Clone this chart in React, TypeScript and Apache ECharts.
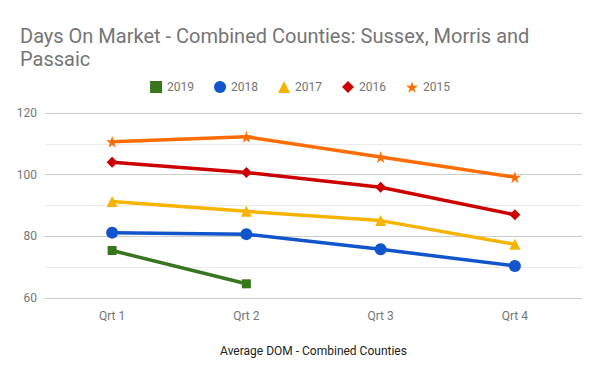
import React, { useEffect, useRef } from "react";
import * as echarts from "echarts";

const categories = ["Qrt 1", "Qrt 2", "Qrt 3", "Qrt 4"];
const s2019 = [75.4, 64.6, null, null];
const s2018 = [81.2, 80.7, 75.8, 70.4];
const s2017 = [91.3, 88.1, 85.1, 77.4];
const s2016 = [104.0, 100.7, 95.9, 87.0];
const s2015 = [110.7, 112.3, 105.7, 99.2];
const yTicks = { min: 60, max: 120, interval: 20 };

export default function App() {
  const ref = useRef<HTMLDivElement>(null);
  useEffect(() => {
    if (!ref.current) return;
    const chart = echarts.init(ref.current, null, { renderer: "svg" });
    const mk = (name: string, data: (number | null)[], color: string, symbol: string, size: number) => ({
      name,
      type: "line",
      data,
      symbol,
      symbolSize: size,
      showAllSymbol: true,
      lineStyle: { color, width: 3.5 },
      itemStyle: { color },
      connectNulls: false,
    });
    chart.setOption({
      animation: false,
      backgroundColor: "#ffffff",
      textStyle: { fontFamily: "Roboto" },
      title: {
        text: "Days On Market - Combined Counties: Sussex, Morris and\nPassaic",
        left: 15,
        top: 19,
        textStyle: { fontFamily: "Roboto", fontSize: 20, fontWeight: "normal", color: "#757575", lineHeight: 23 },
      },
      legend: {
        top: 76,
        left: "center",
        itemGap: 20,
        itemWidth: 12,
        itemHeight: 12,
        textStyle: { fontFamily: "Roboto", fontSize: 12, color: "#757575" },
        data: [
          { name: "2019", icon: "rect" },
          { name: "2018", icon: "circle" },
          { name: "2017", icon: "triangle" },
          { name: "2016", icon: "diamond" },
          { name: "2015", icon: "path://M50,0 L61,35 L98,35 L68,57 L79,91 L50,70 L21,91 L32,57 L2,35 L39,35 Z" },
        ],
      },
      grid: { left: 45, right: 18, top: 113, bottom: 73 },
      xAxis: {
        type: "category",
        data: categories,
        boundaryGap: true,
        name: "Average DOM - Combined Counties",
        nameLocation: "middle",
        nameGap: 47,
        nameTextStyle: { fontFamily: "Roboto", fontSize: 12, color: "#222222" },
        axisLine: { show: false },
        axisTick: { show: false },
        axisLabel: { fontFamily: "Roboto", fontSize: 12, color: "#757575", margin: 12 },
      },
      yAxis: {
        type: "value",
        min: yTicks.min,
        max: yTicks.max,
        interval: yTicks.interval,
        axisLine: { show: false },
        axisTick: { show: false },
        axisLabel: { fontFamily: "Roboto", fontSize: 12, color: "#757575", margin: 8 },
        splitLine: { lineStyle: { color: "#cccccc", width: 1 } },
        minorTick: { show: false, splitNumber: 2 },
        minorSplitLine: { show: true, lineStyle: { color: "#ebebeb", width: 1 } },
      },
      series: [
        mk("2019", s2019, "#38761d", "rect", 9),
        mk("2018", s2018, "#1155cc", "circle", 12),
        mk("2017", s2017, "#f6b400", "triangle", 11),
        mk("2016", s2016, "#cc0000", "diamond", 11),
        mk("2015", s2015, "#ff6d01", "path://M50,0 L61,35 L98,35 L68,57 L79,91 L50,70 L21,91 L32,57 L2,35 L39,35 Z", 12),
      ],
    });
    return () => chart.dispose();
  }, []);
  return <div ref={ref} style={{ width: 600, height: 371, position: "absolute", left: 0, top: 0 }} />;
}
